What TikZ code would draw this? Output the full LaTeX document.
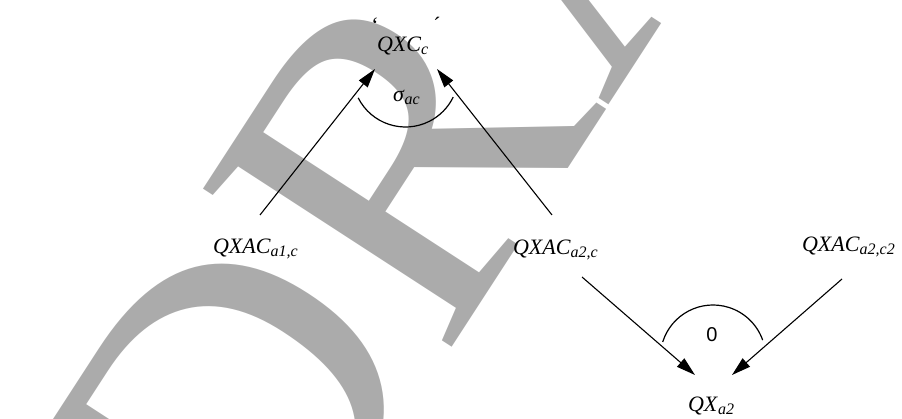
\documentclass[tikz,border=0pt]{standalone}
\usepackage{fontspec}
\setmainfont{Liberation Serif}
\newfontfamily\sansf{Liberation Sans}
\usetikzlibrary{arrows.meta}
\newcommand{\lbl}[2]{\fontsize{22}{24}\selectfont\textit{#1}\raisebox{-3pt}{\fontsize{16}{16}\selectfont\textit{#2}}}
\tikzset{
  lab/.style={anchor=base west, inner sep=0pt, outer sep=0pt},
  conn/.style={line width=1.1pt, -{Triangle[length=19pt,width=11pt]}},
  arcline/.style={line width=1.2pt},
  wmark/.style={rotate=57, anchor=base west, inner sep=0pt, text=black!33,
    font=\fontsize{450}{450}\selectfont}
}
\begin{document}
\begin{tikzpicture}[x=1pt,y=1pt]
\useasboundingbox (0,0) rectangle (902,419);
\clip (0,0) rectangle (902,419);
% watermark
\node[wmark] (wm) at (266,-214) {DRAFT};
% labels
\node[lab] (qxc) at (377,367) {\lbl{QXC}{c}};
\node[inner sep=0pt] (gr) at (375,394) {\fontsize{22}{24}\selectfont\symbol{"60}};
\node[inner sep=0pt] (ac) at (437,394) {\fontsize{22}{24}\selectfont\symbol{"B4}};
\node[lab] (a1c) at (213,165) {\lbl{QXAC}{a1,c}};
\node[lab] (a2c) at (513,164) {\lbl{QXAC}{a2,c}};
\node[lab] (a2c2) at (802,167) {\lbl{QXAC}{a2,c2}};
\node[lab] (qx) at (688,7) {\lbl{QX}{a2}};
\node[lab] (sig) at (393,317) {\lbl{σ}{ac}};
\node[inner sep=0pt] (zero) at (712,84) {\sansf\fontsize{20}{22}\selectfont 0};
% connector ends
\coordinate (s1) at (260,204);
\coordinate (t1) at (375,350);
\coordinate (s2) at (552,204);
\coordinate (t2) at (437,350);
\coordinate (s3) at (582,142);
\coordinate (t3) at (695,44);
\coordinate (s4) at (842,140);
\coordinate (t4) at (732,44);
\draw[conn] (s1) -- (t1);
\draw[conn] (s2) -- (t2);
\draw[conn] (s3) -- (t3);
\draw[conn] (s4) -- (t4);
% angle arcs
\coordinate (c1) at (405.5,345);
\coordinate (c2) at (713,61.3);
\draw[arcline] ([shift={(206.8:53)}]c1) arc[start angle=206.8, end angle=334.2, radius=53];
\draw[arcline] ([shift={(162.6:52.7)}]c2) arc[start angle=162.6, end angle=19.5, radius=52.7];
\end{tikzpicture}
\end{document}
